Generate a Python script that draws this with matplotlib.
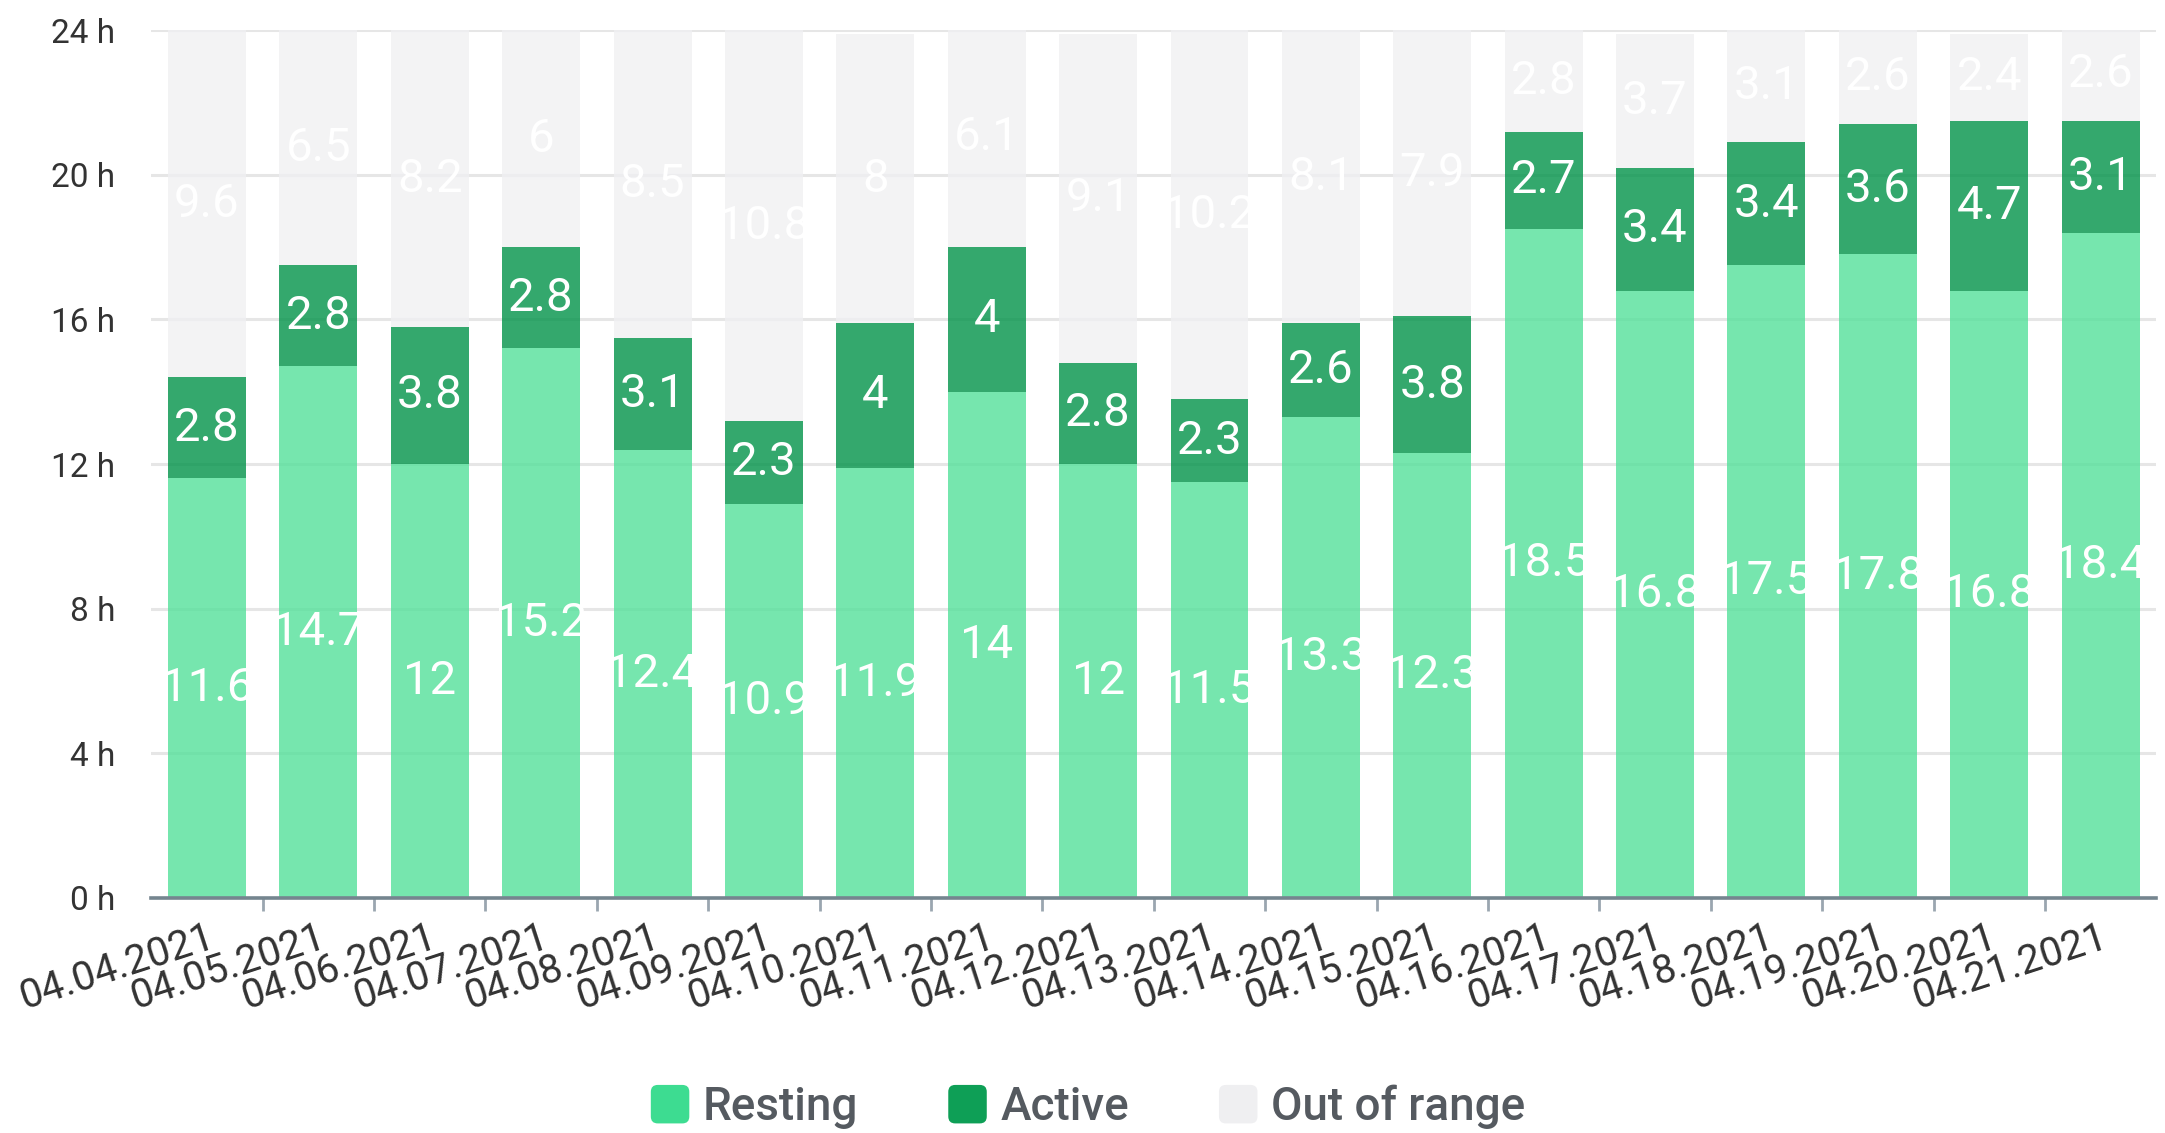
import matplotlib
matplotlib.use("Agg")
import matplotlib.pyplot as plt
import numpy as np
from matplotlib.patches import FancyBboxPatch
from matplotlib.legend_handler import HandlerPatch

dates = ["04.04.2021", "04.05.2021", "04.06.2021", "04.07.2021", "04.08.2021", "04.09.2021",
         "04.10.2021", "04.11.2021", "04.12.2021", "04.13.2021", "04.14.2021", "04.15.2021",
         "04.16.2021", "04.17.2021", "04.18.2021", "04.19.2021", "04.20.2021", "04.21.2021"]
resting = [11.6, 14.7, 12, 15.2, 12.4, 10.9, 11.9, 14, 12, 11.5, 13.3, 12.3, 18.5, 16.8, 17.5, 17.8, 16.8, 18.4]
active = [2.8, 2.8, 3.8, 2.8, 3.1, 2.3, 4, 4, 2.8, 2.3, 2.6, 3.8, 2.7, 3.4, 3.4, 3.6, 4.7, 3.1]
out_of_range = [9.6, 6.5, 8.2, 6, 8.5, 10.8, 8, 6.1, 9.1, 10.2, 8.1, 7.9, 2.8, 3.7, 3.1, 2.6, 2.4, 2.6]
series_names = ["Resting", "Active", "Out of range"]
yticks = [0, 4, 8, 12, 16, 20, 24]

FONT = ["Roboto", "DejaVu Sans"]
plt.rcParams['font.family'] = FONT

c_rest = "#54e09a"
c_act = "#019349"
c_out = "#f0f0f2"
ALPHA = 0.8

fig = plt.figure(figsize=(21.65, 11.33), dpi=100)
ax = fig.add_axes([151.3 / 2165, 1 - 897.6 / 1133, 2005 / 2165, (897.6 - 30.4) / 1133])

x = np.arange(len(dates))
w = 0.70
r = np.array(resting); a = np.array(active); o = np.array(out_of_range)

ax.bar(x, r, w, color=c_rest, alpha=ALPHA, zorder=2, linewidth=0)
ax.bar(x, a, w, bottom=r, color=c_act, alpha=ALPHA, zorder=2, linewidth=0)
ax.bar(x, o, w, bottom=r + a, color=c_out, alpha=ALPHA, zorder=2, linewidth=0)

LBL = 34
for i in range(len(x)):
    ax.text(x[i], r[i] / 2, f"{resting[i]:g}", ha="center", va="center", color="white", fontsize=LBL, zorder=3)
    ax.text(x[i], r[i] + a[i] / 2, f"{active[i]:g}", ha="center", va="center", color="white", fontsize=LBL, zorder=3)
    ax.text(x[i], r[i] + a[i] + o[i] / 2, f"{out_of_range[i]:g}", ha="center", va="center", color="white", fontsize=LBL, zorder=3)

ax.set_xlim(-0.5, len(x) - 0.5)
ax.set_ylim(0, 24)
ax.set_yticks(yticks)
ax.set_yticklabels([f"{v} h" for v in yticks], fontsize=24, color="#333333")
ax.tick_params(axis="y", length=0, pad=26)
ax.yaxis.grid(True, color="#e6e6e6", linewidth=2.2, zorder=0)
ax.set_axisbelow(True)

ax.set_xticks(x)
ax.set_xticklabels(dates, rotation=18, ha="right", rotation_mode="anchor", fontsize=29, color="#333333")
ax.tick_params(axis="x", which="major", length=0, pad=14)
ax.set_xticks(np.arange(0.5, len(x) - 1, 1), minor=True)
ax.tick_params(axis="x", which="minor", length=9, width=2, color="#9aa6b0")

for s in ["top", "right", "left"]:
    ax.spines[s].set_visible(False)
ax.spines["bottom"].set_color("#75858f")
ax.spines["bottom"].set_linewidth(2.6)


class RoundHandler(HandlerPatch):
    def create_artists(self, legend, orig_handle, xdescent, ydescent, width, height, fontsize, trans):
        s = height * 1.2
        p = FancyBboxPatch((width - s, -ydescent + (height - s) / 2), s, s,
                           boxstyle="round,pad=0,rounding_size=%f" % (s * 0.18),
                           facecolor=orig_handle.get_facecolor(), edgecolor="none", transform=trans)
        return [p]


handles = [plt.Rectangle((0, 0), 1, 1, facecolor=c) for c in ["#3ddc91", "#0e9f56", "#efeff1"]]
leg = fig.legend(handles, series_names, loc="center", bbox_to_anchor=(1089 / 2165, 1 - 1107 / 1133), ncol=3,
                 frameon=False, prop={"family": FONT, "size": 33, "weight": "medium"},
                 handlelength=0.8, handletextpad=0.3, columnspacing=2.0,
                 handler_map={plt.Rectangle: RoundHandler()})
for t in leg.get_texts():
    t.set_color("#555a60")

fig.savefig("out.png", dpi=100)
